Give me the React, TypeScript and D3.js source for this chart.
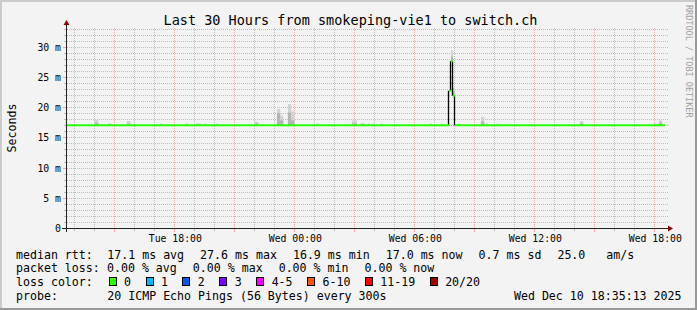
import React from "react";
import * as d3 from "d3";

const W = 697;
const H = 310;

const TITLE = "Last 30 Hours from smokeping-vie1 to switch.ch";
const Y_LABEL = "Seconds";
const WATERMARK = "RRDTOOL / TOBI OETIKER";

const START = new Date(2025, 11, 9, 12, 35, 13);
const END = new Date(2025, 11, 10, 18, 35, 13);
const Y_MAX = 33.1; // ms

// Grid hours, counted from Tue Dec 9 00:00
const gridHours = d3.range(13, 43);

// Median RTT (ms), as steps: time the value begins, value
const medianTimes = ["12-09 12:35", "12-10 07:44", "12-10 07:50", "12-10 07:56", "12-10 08:02", "12-10 18:32"];
const medianValues = [17.0, 22.7, 27.6, 21.9, 17.0, 17.0];

// Smoke (spread of the 20 pings above the median)
const smokeTimes = [
  "12-09 14:02", "12-09 14:41", "12-09 15:38", "12-09 17:17", "12-09 18:35", "12-09 19:05",
  "12-09 19:29", "12-09 20:05", "12-09 22:02", "12-09 23:08", "12-09 23:17", "12-09 23:41",
  "12-09 23:50", "12-10 01:08", "12-10 02:53", "12-10 03:20", "12-10 03:41", "12-10 03:53",
  "12-10 04:20", "12-10 06:47", "12-10 07:20", "12-10 07:50", "12-10 07:56", "12-10 08:11",
  "12-10 09:20", "12-10 09:35", "12-10 10:08", "12-10 10:44", "12-10 11:47", "12-10 14:17",
  "12-10 17:59", "12-10 18:14",
];
const smokeMinutes = [
  10, 10, 10, 5, 5, 15,
  5, 5, 10, 10, 10, 10,
  10, 5, 15, 10, 5, 5,
  5, 5, 5, 6, 6, 5,
  10, 5, 5, 5, 5, 10,
  5, 10,
];
const smokeTops = [
  17.9, 17.3, 17.7, 17.3, 17.4, 17.3,
  17.3, 17.3, 17.6, 19.7, 18.6, 20.5,
  19.3, 17.3, 17.8, 17.4, 17.3, 17.3,
  17.3, 17.3, 17.3, 29.4, 23.2, 17.3,
  18.4, 17.4, 17.3, 17.2, 17.2, 17.7,
  17.4, 17.8,
];
const smokeMids = [
  17.4, 17.1, 17.3, 17.1, 17.1, 17.1,
  17.1, 17.1, 17.3, 19.0, 17.8, 19.1,
  17.8, 17.1, 17.3, 17.1, 17.1, 17.1,
  17.1, 17.1, 17.1, 28.4, 22.6, 17.1,
  17.6, 17.1, 17.1, 17.1, 17.1, 17.3,
  17.1, 17.4,
];

// Legend texts
const rttLabel = "median rtt:";
const rttStats = ["17.1 ms avg", "27.6 ms max", "16.9 ms min", "17.0 ms now", "0.7 ms sd", "25.0   am/s"];
const lossLabel = "packet loss:";
const lossStats = ["0.00 % avg", "0.00 % max", "0.00 % min", "0.00 % now"];
const colorLabel = "loss color:";
const lossBins = ["0", "1", "2", "3", "4-5", "6-10", "11-19", "20/20"];
const lossColors = ["#26ff00", "#00b8ff", "#0059ff", "#7e00ff", "#ff00ff", "#ff5500", "#ff0000", "#a10000"];
const probeLabel = "probe:";
const probeText = "20 ICMP Echo Pings (56 Bytes) every 300s";
const stampText = "Wed Dec 10 18:35:13 2025";

const parseT = (s: string) => {
  const [d, t] = s.split(" ");
  const [mo, da] = d.split("-").map(Number);
  const [h, m] = t.split(":").map(Number);
  return new Date(2025, mo - 1, da, h, m, 0);
};

const MONO = "'DejaVu Sans Mono', monospace";
const CW = 11.6 * 0.602; // legend char width

export default function App() {
  const x = d3.scaleTime().domain([START, END]).range([66, 666]);
  const y = d3.scaleLinear().domain([0, Y_MAX]).range([228, 28]);
  const cy = (v: number) => Math.round(y(v)) + 0.5;

  const hourDate = (k: number) => new Date(2025, 11, 9, k, 0, 0);
  const hx = (k: number) => Math.round(x(hourDate(k)));
  const minorHours = gridHours.filter((k) => k % 3 !== 0);
  const majorHours = gridHours.filter((k) => k % 3 === 0);
  const labelHours = gridHours.filter((k) => k % 6 === 0);

  const msTicks = d3.range(1, 34).filter((v) => y(v) >= 28);

  const mTimes = medianTimes.map(parseT);
  const bis = d3.bisector((d: Date) => d).right;
  const medianAt = (t: Date) => medianValues[Math.max(0, bis(mTimes, t) - 1)];

  const fmt = d3.timeFormat("%a %H:%M");

  const rowX = (items: string[], start: number, gap: number) => {
    const xs: number[] = [];
    let cur = start;
    items.forEach((s) => {
      xs.push(cur);
      cur += s.length * CW + gap;
    });
    return xs;
  };
  const rttX = rowX(rttStats, 107.3, 16);
  const lossX = rowX(lossStats, 107, 16);
  const boxX: number[] = [];
  {
    let cur = 108.7;
    lossBins.forEach((s) => {
      boxX.push(cur);
      cur += 15.4 + s.length * CW + 14.5;
    });
  }

  const gridMinor = "#bcbcbc";
  const gridMajor = "#f3a6a6";
  const dotRows = d3.range(28, 228, 2);

  return (
    <svg
      width={W}
      height={H}
      style={{ position: "absolute", left: 0, top: 0, display: "block" }}
      fontFamily={MONO}
    >
      <rect x={0} y={0} width={W} height={H} fill="#f3f3f3" />
      <rect x={0} y={0} width={W} height={2} fill="#cbcbcb" />
      <rect x={0} y={0} width={2} height={H} fill="#cbcbcb" />
      <rect x={0} y={H - 2} width={W} height={2} fill="#999999" />
      <rect x={W - 2} y={0} width={2} height={H} fill="#999999" />

      <text x={350.5} y={24.5} fontSize={13.5} textAnchor="middle" fill="#000">
        {TITLE}
      </text>

      <g shapeRendering="crispEdges">
        {msTicks.map((v) => {
          const major = v % 5 === 0;
          const yy = cy(v);
          return (
            <g key={"h" + v}>
              <line x1={major ? 63 : 64} x2={66} y1={yy} y2={yy} stroke={major ? gridMajor : gridMinor} />
              <line
                x1={67}
                x2={668}
                y1={yy}
                y2={yy}
                stroke={major ? gridMajor : gridMinor}
                strokeDasharray="1,1"
              />
            </g>
          );
        })}
        {minorHours.map((k) => {
          const xx = hx(k);
          return (
            <g key={"vm" + k} fill={gridMinor}>
              {dotRows.map((r) => (
                <rect key={r} x={xx} y={r} width={1} height={1} />
              ))}
              <rect x={xx} y={229} width={1} height={2} />
            </g>
          );
        })}
        {majorHours.map((k) => {
          const xx = hx(k);
          return (
            <g key={"vM" + k} fill={gridMajor}>
              {dotRows.map((r) => (
                <rect key={r} x={xx} y={r} width={1} height={1} />
              ))}
              <rect x={xx} y={229} width={1} height={3} />
            </g>
          );
        })}
      </g>

      {smokeTimes.map((s, i) => {
        const t0 = parseT(s);
        const t1 = d3.timeMinute.offset(t0, smokeMinutes[i]);
        const base = medianAt(t0);
        const x0 = x(t0);
        const w = Math.max(1.5, x(t1) - x0);
        return (
          <g key={"s" + i}>
            <rect x={x0} y={y(smokeTops[i])} width={w} height={y(base) - y(smokeTops[i])} fill="#d2d2d2" />
            {smokeMids[i] > base && (
              <rect x={x0} y={y(smokeMids[i])} width={w} height={y(base) - y(smokeMids[i])} fill="#b4b4b4" />
            )}
          </g>
        );
      })}

      {mTimes.slice(1).map((t, i) => {
        const a = medianValues[i];
        const b = medianValues[i + 1];
        if (Math.abs(a - b) < 0.5) return null;
        const xx = Math.round(x(t)) - 0.5;
        return <line key={"k" + i} x1={xx} x2={xx} y1={y(a)} y2={y(b)} stroke="#000" strokeWidth={1.3} />;
      })}
      {mTimes.slice(0, -1).map((t, i) => (
        <line
          key={"m" + i}
          x1={x(t)}
          x2={x(mTimes[i + 1])}
          y1={y(medianValues[i])}
          y2={y(medianValues[i])}
          stroke={lossColors[0]}
          strokeWidth={2}
        />
      ))}

      <line x1={62} x2={668} y1={228.5} y2={228.5} stroke="#222" />
      <line x1={66.5} x2={66.5} y1={25} y2={232} stroke="#222" />
      <path d="M668,225.5 L673,228.5 L668,231.5 Z" fill="#8f0000" />
      <path d="M63.5,25 L66.5,20 L69.5,25 Z" fill="#8f0000" />

      {[0, 5, 10, 15, 20, 25, 30].map((v) => (
        <text key={"yl" + v} x={61} y={cy(v) + 3.5} fontSize={9.8} textAnchor="end" fill="#000">
          {v === 0 ? "0" : `${v} m`}
        </text>
      ))}
      {labelHours.map((k) => (
        <text key={"xl" + k} x={hx(k) + 1.3} y={242} fontSize={9.8} textAnchor="middle" fill="#000">
          {fmt(hourDate(k))}
        </text>
      ))}

      <text transform={`translate(15.5,128) rotate(-90)`} fontSize={11.6} textAnchor="middle" fill="#000">
        {Y_LABEL}
      </text>

      <text transform={`translate(685.5,5) rotate(90)`} fontSize={8.5} fill="#a0a0a0">
        {WATERMARK}
      </text>

      <g fontSize={11.6} fill="#000">
        <text x={16} y={258.6}>{rttLabel}</text>
        {rttStats.map((s, i) => (
          <text key={"r" + i} x={rttX[i]} y={258.6} style={{ whiteSpace: "pre" }}>
            {s}
          </text>
        ))}
        <text x={16} y={272.4}>{lossLabel}</text>
        {lossStats.map((s, i) => (
          <text key={"l" + i} x={lossX[i]} y={272.4}>
            {s}
          </text>
        ))}
        <text x={16} y={286}>{colorLabel}</text>
        {lossBins.map((s, i) => (
          <g key={"b" + i}>
            <rect x={Math.round(boxX[i]) + 0.5} y={277.5} width={7} height={8} fill={lossColors[i]} stroke="#000" />
            <text x={boxX[i] + 15.4} y={286}>
              {s}
            </text>
          </g>
        ))}
        <text x={16} y={299.8}>{probeLabel}</text>
        <text x={107.3} y={299.8}>{probeText}</text>
        <text x={681.5} y={299.8} textAnchor="end">
          {stampText}
        </text>
      </g>
    </svg>
  );
}
